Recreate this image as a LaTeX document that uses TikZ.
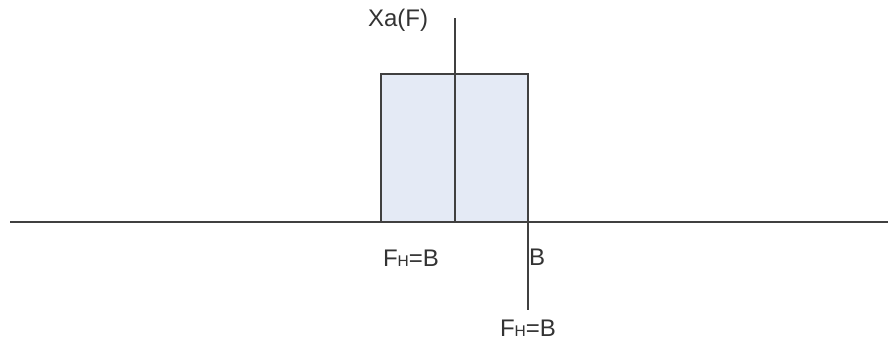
\documentclass[tikz,border=0pt]{standalone}
\usepackage{fontspec}
\setmainfont{Liberation Sans}
\newcommand{\smallH}{{\fontsize{15.5}{15.5}\selectfont H}}
\begin{document}
\begin{tikzpicture}[x=1pt,y=-1pt,
  ln/.style={draw=black!75,line width=1.4pt},
  lbl/.style={font=\fontsize{24}{24}\selectfont,text=black!80,inner sep=0pt}]
\useasboundingbox (0,0) rectangle (888,343);
\node[draw=black!75,line width=1.4pt,fill={rgb,255:red,228;green,234;blue,245},minimum width=147pt,minimum height=148pt,inner sep=0pt] (box) at (454.5,148) {};
\coordinate (hl) at (10,222);
\coordinate (hr) at (888,222);
\coordinate (vt) at (455,18);
\coordinate (vb) at (455,222);
\coordinate (bt) at (528,222);
\coordinate (bb) at (528,310);
\draw[ln] (hl) -- (hr);
\draw[ln] (vt) -- (vb);
\draw[ln] (bt) -- (bb);
\node[lbl] (xa) at (398,20) {Xa(F)};
\node[lbl] (f1) at (411,258) {F\smallH=B};
\node[lbl,anchor=west] (b) at (529,257) {B};
\node[lbl] (f2) at (528,328) {F\smallH=B};
\end{tikzpicture}
\end{document}
